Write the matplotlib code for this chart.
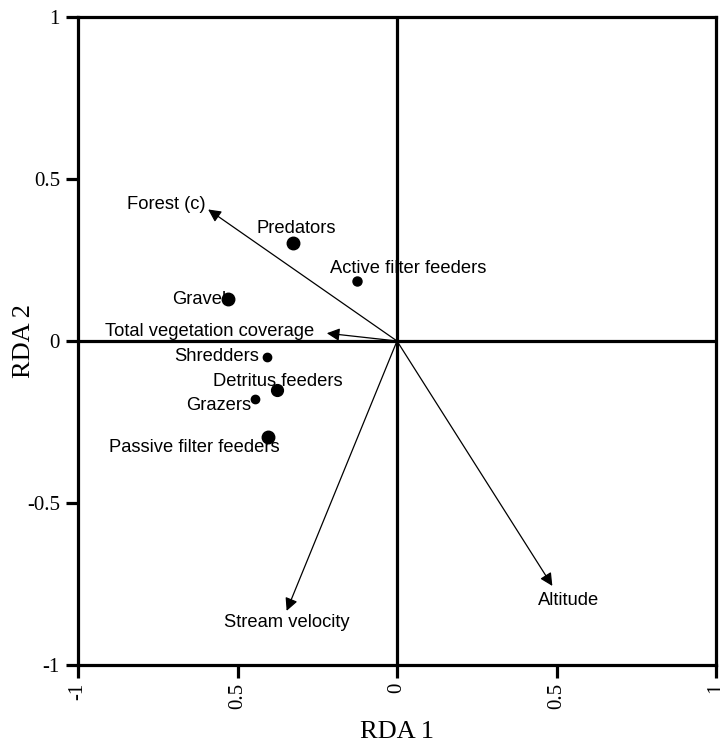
import matplotlib
matplotlib.use("Agg")
import matplotlib.pyplot as plt

# ---- data ----
species = ["Predators", "Active filter feeders", "Gravel", "Shredders",
           "Detritus feeders", "Grazers", "Passive filter feeders"]
species_x = [-0.327, -0.124, -0.529, -0.407, -0.375, -0.446, -0.403]
species_y = [0.302, 0.185, 0.129, -0.049, -0.152, -0.180, -0.296]

env_vars = ["Forest (c)", "Total vegetation coverage", "Stream velocity", "Altitude"]
env_x = [-0.592, -0.220, -0.346, 0.487]
env_y = [0.406, 0.024, -0.833, -0.756]

tick_vals = [-1, -0.5, 0, 0.5, 1]
xtick_labels = ["-1", "0.5", "0", "0.5", "1"]
ytick_labels = ["-1", "-0.5", "0", "0.5", "1"]

# ---- style / layout ----
species_offsets = [(4, 15), (51, 13), (-29, 0), (-51, 0), (0, 9), (-36, -6), (-74, -11)]
species_msize = [9, 6.5, 9, 6, 8.5, 6, 9]
env_offsets = [(-42, 5), (-117, 2), (0, -12), (16, -15)]

lab_font = ["Liberation Sans", "DejaVu Sans"]
serif_font = ["Liberation Serif", "DejaVu Serif"]

fig = plt.figure(figsize=(7.2, 7.47), dpi=100)
ax = fig.add_axes([78 / 720, 1 - 665 / 747, 638 / 720, 648 / 747])
ax.set_xlim(-1, 1)
ax.set_ylim(-1, 1)

ax.axhline(0, color="black", lw=2.3, zorder=5)
ax.axvline(0, color="black", lw=2.3, zorder=5)

for name, x, y, off, ms in zip(species, species_x, species_y, species_offsets, species_msize):
    ax.plot(x, y, "o", color="black", markersize=ms, zorder=4)
    ax.annotate(name, (x, y), xytext=off, textcoords="offset pixels",
                ha="center", va="center", fontsize=13.2, family=lab_font, zorder=3)

for name, x, y, off in zip(env_vars, env_x, env_y, env_offsets):
    ax.annotate("", xy=(x, y), xytext=(0, 0),
                arrowprops=dict(arrowstyle="-|>", color="black", lw=0.9,
                                mutation_scale=19, shrinkA=0, shrinkB=0),
                zorder=4)
    ax.annotate(name, (x, y), xytext=off, textcoords="offset pixels",
                ha="center", va="center", fontsize=13.2, family=lab_font, zorder=3)

for s in ax.spines.values():
    s.set_linewidth(2.3)

ax.set_xticks(tick_vals)
ax.set_xticklabels(xtick_labels, rotation=90, family=serif_font, fontsize=15)
ax.set_yticks(tick_vals)
ax.set_yticklabels(ytick_labels, family=serif_font, fontsize=15)
ax.tick_params(direction="out", length=9, width=2.3, pad=4)

ax.set_xlabel("RDA 1", family=serif_font, fontsize=19)
ax.set_ylabel("RDA 2", family=serif_font, fontsize=19)
ax.xaxis.set_label_coords(0.5, -0.086)
ax.yaxis.set_label_coords(-0.085, 0.5)
ax.yaxis.label.set_va("center")

fig.savefig("out.png", dpi=100)
